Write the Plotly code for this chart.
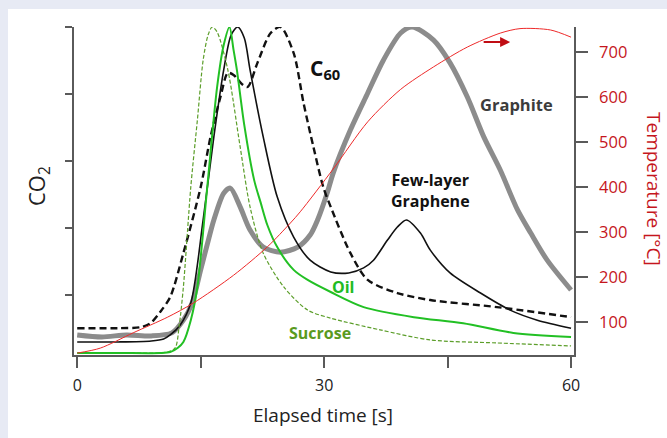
import plotly.graph_objects as go

# Elapsed time [s] and normalised CO2 signal for each carbon sample
time_graphite = [0, 3, 6, 9, 11.5, 12.9, 14.0, 15.0, 16.0, 16.6, 17.8, 18.6, 19.8, 21.0, 22.6, 24.7,
                 26.8, 28.3, 29.2, 30.4, 31.1, 33.2, 35.3, 37.2, 39.3, 40.7, 43.3, 45.3, 47.4, 49.4,
                 51.4, 53.5, 55.1, 57.1, 60]
co2_graphite = [0.081, 0.075, 0.081, 0.078, 0.087, 0.125, 0.179, 0.275, 0.370, 0.424, 0.504, 0.519,
                0.463, 0.394, 0.343, 0.328, 0.343, 0.379, 0.424, 0.507, 0.564, 0.693, 0.803, 0.901,
                0.982, 1.0, 0.961, 0.893, 0.791, 0.672, 0.573, 0.454, 0.385, 0.304, 0.215]

time_flg = [0, 5, 9, 10.5, 11.3, 12.5, 13.8, 15.3, 16.6, 17.8, 18.7, 19.5, 20.3, 21.0, 22.6, 24.3,
            26.3, 28.3, 30.8, 33.0, 34.8, 36.0, 37.7, 38.9, 40.0, 41.7, 42.9, 45.3, 49.0, 52.6, 55.9, 60]
co2_flg = [0.060, 0.060, 0.063, 0.069, 0.081, 0.110, 0.176, 0.424, 0.672, 0.872, 0.976, 1.0, 0.967,
           0.872, 0.672, 0.493, 0.373, 0.304, 0.269, 0.266, 0.281, 0.304, 0.364, 0.403, 0.424, 0.385,
           0.334, 0.266, 0.206, 0.155, 0.125, 0.101]

time_c60 = [0, 5, 7.7, 8.9, 10.1, 11.3, 12.9, 15.0, 16.2, 17.4, 18.3, 19.0, 20.0, 20.7, 21.9, 23.5,
            24.7, 26.3, 27.5, 28.7, 29.9, 30.8, 33.2, 35.3, 38.9, 42.9, 51.0, 60]
co2_c60 = [0.101, 0.101, 0.104, 0.116, 0.150, 0.194, 0.325, 0.522, 0.672, 0.791, 0.863, 0.857, 0.830,
           0.821, 0.893, 0.982, 1.0, 0.922, 0.773, 0.642, 0.522, 0.463, 0.325, 0.245, 0.206, 0.185,
           0.164, 0.134]

time_oil = [0, 5, 10.1, 11.3, 12.2, 12.9, 13.8, 14.6, 15.8, 17.0, 17.8, 18.5, 19.0, 19.4, 20.3, 21.5,
            22.3, 23.1, 24.3, 26.3, 28.0, 30.8, 34.8, 40.9, 46.9, 53.0, 60]
co2_oil = [0.027, 0.027, 0.027, 0.030, 0.042, 0.060, 0.125, 0.224, 0.522, 0.821, 0.946, 1.0, 0.931,
           0.872, 0.707, 0.543, 0.475, 0.409, 0.343, 0.275, 0.245, 0.209, 0.164, 0.134, 0.116, 0.087,
           0.075]

time_sucrose = [0, 5, 11.0, 11.9, 12.4, 12.9, 13.8, 14.6, 15.3, 15.9, 16.4, 17.0, 18.3, 19.8, 21.0,
                22.6, 25.1, 28.0, 30.8, 36.8, 42.9, 51.0, 60]
co2_sucrose = [0.027, 0.027, 0.030, 0.042, 0.110, 0.224, 0.522, 0.722, 0.901, 0.976, 1.0, 0.985,
               0.872, 0.642, 0.463, 0.325, 0.224, 0.155, 0.131, 0.096, 0.066, 0.057, 0.048]

# Furnace temperature [°C]
time_temp = [0, 2.8, 6.8, 11.0, 14.1, 19.0, 23.1, 25.9, 27.1, 31.1, 35.3, 39.3, 43.3, 47.4, 51.4,
             53.8, 57.5, 60]
temp_c = [31, 42, 76, 111, 142, 204, 267, 320, 345, 440, 545, 617, 667, 711, 742, 752, 749, 733]

x_ticks = [0, 15, 30, 45, 60]
x_tick_text = ["0", "", "30", "", "60"]
temp_ticks = [100, 200, 300, 400, 500, 600, 700]

FONT = "Open Sans"
RED_TEXT = "#c5161d"
AXIS = "#5a5a5a"
FRAME = "#e7eaf4"

fig = go.Figure()

fig.add_trace(go.Scatter(x=time_graphite, y=co2_graphite, mode="lines",
                         line=dict(color="#8c8c8c", width=5, shape="spline", smoothing=0.8)))
fig.add_trace(go.Scatter(x=time_c60, y=co2_c60, mode="lines",
                         line=dict(color="#111111", width=2.4, dash="7px,4px", shape="spline", smoothing=0.8)))
fig.add_trace(go.Scatter(x=time_flg, y=co2_flg, mode="lines",
                         line=dict(color="#111111", width=1.6, shape="spline", smoothing=0.8)))
fig.add_trace(go.Scatter(x=time_sucrose, y=co2_sucrose, mode="lines",
                         line=dict(color="#5c9e2a", width=1.2, dash="4px,2px", shape="spline", smoothing=0.8)))
fig.add_trace(go.Scatter(x=time_oil, y=co2_oil, mode="lines",
                         line=dict(color="#22c024", width=2, shape="spline", smoothing=0.8)))
fig.add_trace(go.Scatter(x=time_temp, y=temp_c, mode="lines", yaxis="y2",
                         line=dict(color="#ee2a2a", width=1, shape="spline", smoothing=0.8)))

L, R, T, B = 74, 93, 27, 83
W, H = 667, 438
pw, ph = W - L - R, H - T - B


def px(xp):
    return (xp - L) / pw


def py(yp):
    return (H - B - yp) / ph


def label(text, x, y, size, color, **kw):
    return dict(text=text, x=x, y=y, xref="x", yref="y", showarrow=False, xanchor=kw.get("xanchor", "center"),
                yanchor="middle", font=dict(family=FONT, size=size, color=color))


annotations = [
    dict(text="CO<sub>2</sub>", x=px(38), y=py(186), xref="paper", yref="paper", showarrow=False,
         xanchor="center", yanchor="middle", textangle=-90,
         font=dict(family=FONT, size=22, color="#222222")),
    dict(text="Elapsed time [s]", x=px(323), y=py(415), xref="paper", yref="paper", showarrow=False,
         xanchor="center", yanchor="middle", font=dict(family=FONT, size=19, color="#222222")),
    dict(text="Temperature [°C]", x=px(654), y=py(189), xref="paper", yref="paper", showarrow=False,
         xanchor="center", yanchor="middle", textangle=90,
         font=dict(family=FONT, size=19, color=RED_TEXT)),
    label("<b>C<sub>60</sub></b>", 28.0, 0.875, 21, "#111111", xanchor="left"),
    label("<b>Graphite</b>", 53.4, 0.770, 16.5, "#3c3c3c"),
    label("<b>Few-layer<br>Graphene</b>", 42.9, 0.513, 16, "#111111"),
    label("<b>Oil</b>", 32.3, 0.224, 16, "#22bb22"),
    label("<b>Sucrose</b>", 29.55, 0.087, 16, "#5a9a1e"),
    dict(text="", x=52.6, y=722, xref="x", yref="y2", ax=49.2, ay=722, axref="x", ayref="y2",
         showarrow=True, arrowhead=2, arrowsize=1, arrowwidth=2, arrowcolor="#c00d14"),
]

# light frame along the top and left edges of the page
frame = [
    dict(type="rect", xref="paper", yref="paper", x0=px(-10), x1=px(8), y0=py(H + 10), y1=py(-10),
         fillcolor=FRAME, line=dict(width=0), layer="below"),
    dict(type="rect", xref="paper", yref="paper", x0=px(-10), x1=px(W + 10), y0=py(9), y1=py(-10),
         fillcolor=FRAME, line=dict(width=0), layer="below"),
]

fig.update_layout(
    width=W, height=H,
    margin=dict(l=L, r=R, t=T, b=B),
    paper_bgcolor="#ffffff",
    plot_bgcolor="#ffffff",
    showlegend=False,
    font=dict(family=FONT, color="#222222"),
    shapes=frame,
    annotations=annotations,
    xaxis=dict(range=[-0.39, 60.36], tickvals=x_ticks, ticktext=x_tick_text, ticks="outside",
               ticklen=11, tickwidth=1.5, tickcolor=AXIS, showline=True, linecolor=AXIS, linewidth=1.5,
               showgrid=False, zeroline=False, ticklabelstandoff=4,
               tickfont=dict(family=FONT, size=16, color="#222222")),
    yaxis=dict(range=[0.021, 1.0], tickvals=[0.2, 0.4, 0.6, 0.8, 1.0], ticks="outside", ticklen=7,
               tickwidth=1.5, tickcolor=AXIS, showticklabels=False, showline=True, linecolor=AXIS,
               linewidth=1.5, showgrid=False, zeroline=False),
    yaxis2=dict(range=[26.7, 755.6], overlaying="y", side="right", anchor="x", tickvals=temp_ticks,
                ticks="outside", ticklen=12, tickwidth=1.5, tickcolor=AXIS, showline=True,
                linecolor=AXIS, linewidth=1.5, showgrid=False, zeroline=False, ticklabelstandoff=8,
                tickfont=dict(family=FONT, size=16.5, color=RED_TEXT)),
)

fig.write_html("out.html")
